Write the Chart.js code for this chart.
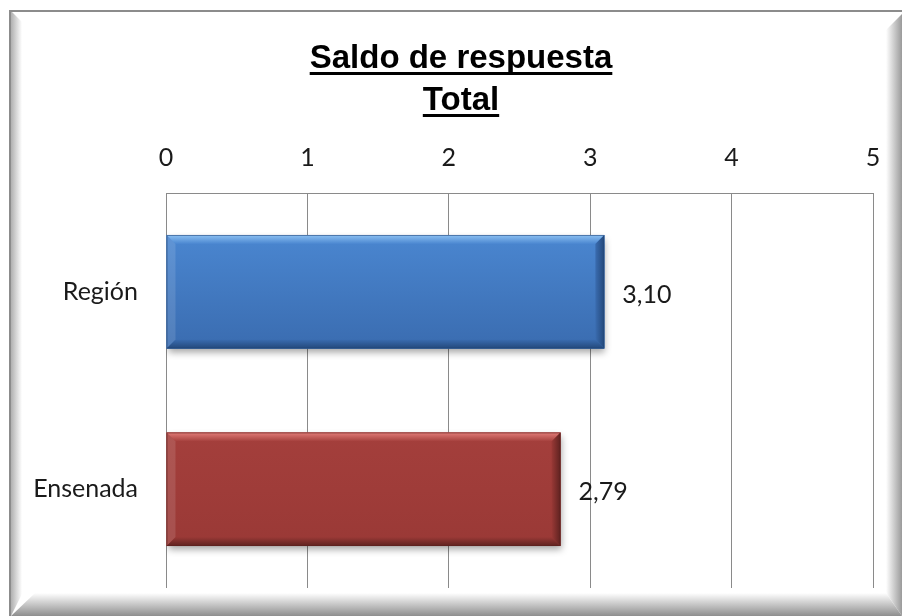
<!DOCTYPE html>
<html lang="es">
<head>
<meta charset="UTF-8">
<title>Saldo de respuesta</title>
<script src="https://cdn.jsdelivr.net/npm/chart.js"></script>
<style>
  body { margin: 0; background: #fff; }
  #wrap { width: 902px; height: 616px; position: relative; }
</style>
</head>
<body>
<div id="wrap"><canvas id="saldoChart"></canvas></div>
<script>
// values
const categories = ['Región', 'Ensenada'];
const saldo = [3.10, 2.79];
const axisMin = 0;
const axisMax = 5;
const axisStep = 1;
const titleLines = ['Saldo de respuesta', 'Total'];

// face / light edge / dark edge for each bar
const barFaces = [['#4a86d0', '#3a6cb0'], ['#a43f3c', '#9a3936']];
const barLights = ['#8cc0f2', '#e27c78'];
const barDarks = ['#23487a', '#5e2220'];

const fmt = v => v.toFixed(2).replace('.', ',');
const labelFont = { family: 'Lato, "Open Sans", sans-serif', size: 25 };

// grey bevelled picture frame behind everything
const framePlugin = {
  id: 'frame',
  beforeDraw(chart) {
    const { ctx, width: w, height: h } = chart;
    ctx.save();
    ctx.fillStyle = '#fff';
    ctx.fillRect(0, 0, w, h);

    // left edge
    let g = ctx.createLinearGradient(11, 0, 22, 0);
    g.addColorStop(0, '#b0b0b0');
    g.addColorStop(1, '#ffffff');
    ctx.fillStyle = g;
    ctx.beginPath();
    ctx.moveTo(11, 11); ctx.lineTo(22, 22); ctx.lineTo(22, 594); ctx.lineTo(11, h);
    ctx.closePath(); ctx.fill();

    // right edge
    g = ctx.createLinearGradient(w - 16, 0, w, 0);
    g.addColorStop(0, '#ffffff');
    g.addColorStop(1, '#9a9a9a');
    ctx.fillStyle = g;
    ctx.beginPath();
    ctx.moveTo(w - 16, 30); ctx.lineTo(w, 14); ctx.lineTo(w, h); ctx.lineTo(w - 16, 593);
    ctx.closePath(); ctx.fill();

    // bottom edge
    g = ctx.createLinearGradient(0, 593, 0, h);
    g.addColorStop(0, '#ffffff');
    g.addColorStop(1, '#8e8e8e');
    ctx.fillStyle = g;
    ctx.beginPath();
    ctx.moveTo(11, h); ctx.lineTo(35, 593); ctx.lineTo(w - 16, 593); ctx.lineTo(w, h);
    ctx.closePath(); ctx.fill();

    // outer line
    ctx.strokeStyle = '#8c8c8c';
    ctx.lineWidth = 2;
    ctx.beginPath();
    ctx.moveTo(10, h); ctx.lineTo(10, 11); ctx.lineTo(w, 11);
    ctx.stroke();
    ctx.restore();
  }
};

// underlined two-line title
const titlePlugin = {
  id: 'underTitle',
  afterDraw(chart) {
    const { ctx } = chart;
    const cx = chart.width / 2 + 10;
    ctx.save();
    ctx.font = 'bold 33px "Liberation Sans", Arial, sans-serif';
    ctx.fillStyle = '#000';
    ctx.textAlign = 'center';
    ctx.textBaseline = 'alphabetic';
    titleLines.forEach((t, i) => {
      const base = 68 + i * 42;
      ctx.fillText(t, cx, base);
      const tw = ctx.measureText(t).width;
      ctx.fillRect(cx - tw / 2, base + 4, tw, 3);
    });
    ctx.restore();
  }
};

// soft drop shadow, bevelled faces and value labels on the bars
const barPlugin = {
  id: 'bevelBars',
  beforeDatasetsDraw(chart) {
    const ctx = chart.ctx;
    ctx.save();
    ctx.shadowColor = 'rgba(0,0,0,0.35)';
    ctx.shadowBlur = 7;
    ctx.shadowOffsetY = 4;
    ctx.shadowOffsetX = 1;
  },
  afterDatasetsDraw(chart) {
    const ctx = chart.ctx;
    ctx.restore();
    const meta = chart.getDatasetMeta(0);
    meta.data.forEach((bar, i) => {
      const { x, y, base, height } = bar.getProps(['x', 'y', 'base', 'height'], true);
      const L = base, R = x, T = y - height / 2, B = y + height / 2;
      const b = 9;
      ctx.save();
      // face
      let g = ctx.createLinearGradient(0, T, 0, B);
      g.addColorStop(0, barFaces[i][0]);
      g.addColorStop(1, barFaces[i][1]);
      ctx.fillStyle = g;
      ctx.fillRect(L, T, R - L, B - T);
      // top highlight
      g = ctx.createLinearGradient(0, T, 0, T + b);
      g.addColorStop(0, barLights[i]);
      g.addColorStop(1, barFaces[i][0]);
      ctx.fillStyle = g;
      ctx.beginPath();
      ctx.moveTo(L, T); ctx.lineTo(R, T); ctx.lineTo(R - b, T + b); ctx.lineTo(L + b, T + b);
      ctx.closePath(); ctx.fill();
      // bottom shade
      g = ctx.createLinearGradient(0, B - b, 0, B);
      g.addColorStop(0, barFaces[i][1]);
      g.addColorStop(1, barDarks[i]);
      ctx.fillStyle = g;
      ctx.beginPath();
      ctx.moveTo(L, B); ctx.lineTo(R, B); ctx.lineTo(R - b, B - b); ctx.lineTo(L + b, B - b);
      ctx.closePath(); ctx.fill();
      // right side
      g = ctx.createLinearGradient(R - b, 0, R, 0);
      g.addColorStop(0, barFaces[i][1]);
      g.addColorStop(1, barDarks[i]);
      ctx.fillStyle = g;
      ctx.beginPath();
      ctx.moveTo(R, T); ctx.lineTo(R, B); ctx.lineTo(R - b, B - b); ctx.lineTo(R - b, T + b);
      ctx.closePath(); ctx.fill();
      // left side
      ctx.fillStyle = 'rgba(255,255,255,0.12)';
      ctx.beginPath();
      ctx.moveTo(L, T); ctx.lineTo(L, B); ctx.lineTo(L + b, B - b); ctx.lineTo(L + b, T + b);
      ctx.closePath(); ctx.fill();
      // thin outline
      ctx.strokeStyle = barDarks[i];
      ctx.globalAlpha = 0.6;
      ctx.lineWidth = 1;
      ctx.strokeRect(L + 0.5, T + 0.5, R - L - 1, B - T - 1);
      ctx.restore();

      // value label
      ctx.save();
      ctx.font = `${labelFont.size}px ${labelFont.family}`;
      ctx.fillStyle = '#1a1a1a';
      ctx.textAlign = 'left';
      ctx.textBaseline = 'middle';
      ctx.fillText(fmt(saldo[i]), R + 18, y + 3);
      ctx.restore();
    });
  }
};

new Chart(document.getElementById('saldoChart'), {
  type: 'bar',
  data: {
    labels: categories,
    datasets: [{
      data: saldo,
      backgroundColor: barFaces.map(f => f[0]),
      borderWidth: 0,
      categoryPercentage: 1,
      barPercentage: 0.575
    }]
  },
  options: {
    indexAxis: 'y',
    responsive: true,
    maintainAspectRatio: false,
    animation: false,
    layout: { padding: { top: 130, right: 29, bottom: 28, left: 0 } },
    scales: {
      x: {
        position: 'top',
        min: axisMin,
        max: axisMax,
        ticks: { stepSize: axisStep, color: '#1a1a1a', font: labelFont, padding: 20 },
        grid: { color: '#8a8a8a', lineWidth: 1, drawTicks: false },
        border: { display: true, color: '#8a8a8a' },
        afterFit: s => { s.height = 63; }
      },
      y: {
        ticks: { color: '#1a1a1a', font: labelFont, padding: 28 },
        grid: { display: false, drawTicks: false },
        border: { display: false },
        afterFit: s => { s.width = 166; s.paddingTop = 0; s.paddingBottom = 0; }
      }
    },
    plugins: {
      legend: { display: false },
      title: { display: false },
      tooltip: { enabled: false }
    }
  },
  plugins: [framePlugin, barPlugin, titlePlugin]
});
</script>
</body>
</html>
